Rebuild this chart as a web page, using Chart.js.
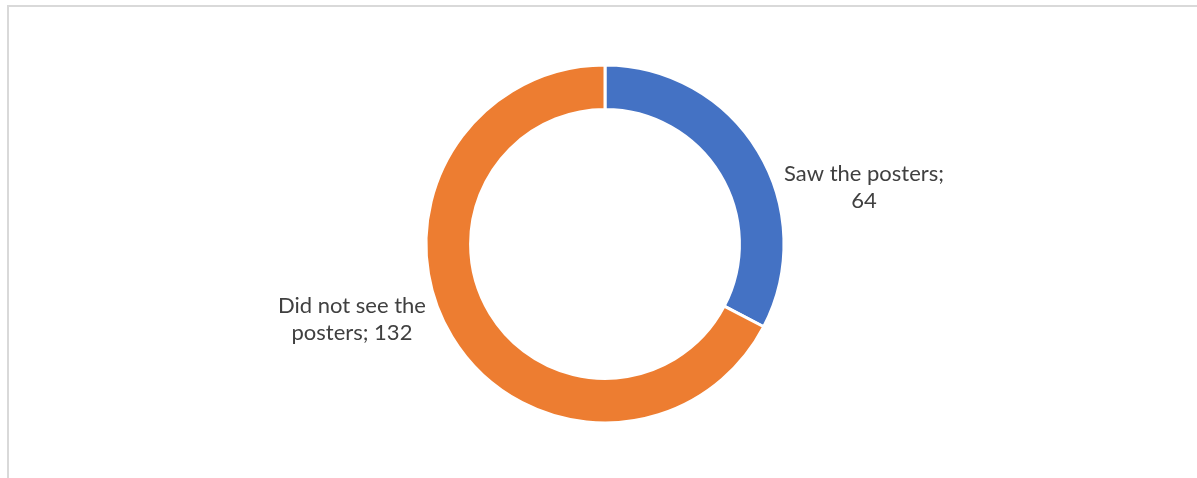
<!DOCTYPE html>
<html>
<head>
<meta charset="utf-8">
<script src="https://cdn.jsdelivr.net/npm/chart.js@4/dist/chart.umd.min.js"></script>
<style>
    html, body { margin: 0; padding: 0; background: #ffffff; overflow: hidden; }
    #wrap { position: relative; width: 1197px; height: 478px; }
    #frame {
        position: absolute; left: 7px; top: 5px;
        width: 1200px; height: 500px;
        border: 2px solid #d9d9d9;
        box-sizing: border-box;
    }
    #chart { position: absolute; left: 0; top: 0; }
</style>
</head>
<body>
<div id="wrap">
    <div id="frame"></div>
    <canvas id="chart" width="1197" height="478"></canvas>
</div>
<script>
const categories = ['Saw the posters', 'Did not see the posters'];
const counts = [64, 132];
const sliceColors = ['#4472C4', '#ED7D31'];

// wrap "name; value" into lines no wider than maxWidth
function wrapLabel(ctx, text, maxWidth) {
    const words = text.split(' ');
    const lines = [];
    let line = '';
    words.forEach(word => {
        const test = line ? line + ' ' + word : word;
        if (line && ctx.measureText(test).width > maxWidth) {
            lines.push(line);
            line = word;
        } else {
            line = test;
        }
    });
    if (line) lines.push(line);
    return lines;
}

// data labels outside the ring, Excel style
const outsideLabels = {
    id: 'outsideLabels',
    afterDatasetsDraw(chart, args, opts) {
        const ctx = chart.ctx;
        const meta = chart.getDatasetMeta(0);
        ctx.save();
        ctx.font = opts.font;
        ctx.fillStyle = opts.color;
        ctx.textAlign = 'center';
        ctx.textBaseline = 'alphabetic';
        meta.data.forEach((arc, i) => {
            const p = arc.getProps(['x', 'y', 'startAngle', 'endAngle', 'outerRadius'], true);
            const mid = (p.startAngle + p.endAngle) / 2;
            const cos = Math.cos(mid), sin = Math.sin(mid);
            const text = categories[i] + '; ' + counts[i];
            const lines = wrapLabel(ctx, text, opts.maxWidth);
            const widest = Math.max(...lines.map(l => ctx.measureText(l).width));
            const side = cos >= 0 ? 1 : -1;
            const bx = p.x + cos * p.outerRadius + side * (widest / 2 + opts.gap);
            const by = p.y + sin * p.outerRadius + opts.nudgeY[i];
            let y = by - (lines.length - 1) * opts.lineHeight / 2 + opts.capHalf;
            lines.forEach(l => {
                ctx.fillText(l, bx, y);
                y += opts.lineHeight;
            });
        });
        ctx.restore();
    }
};

new Chart(document.getElementById('chart'), {
    type: 'doughnut',
    data: {
        labels: categories,
        datasets: [{
            data: counts,
            backgroundColor: sliceColors,
            borderColor: '#ffffff',
            borderWidth: 3,
            radius: 179,
            cutout: '75.1%'
        }]
    },
    options: {
        responsive: false,
        animation: false,
        layout: { padding: { left: 13, top: 10 } },
        plugins: {
            legend: { display: false },
            tooltip: { enabled: false },
            outsideLabels: {
                font: '22px Lato',
                color: '#404040',
                maxWidth: 170,
                gap: 26,
                lineHeight: 27,
                capHalf: 8,
                nudgeY: [35, -18]
            }
        }
    },
    plugins: [outsideLabels]
});
</script>
</body>
</html>
